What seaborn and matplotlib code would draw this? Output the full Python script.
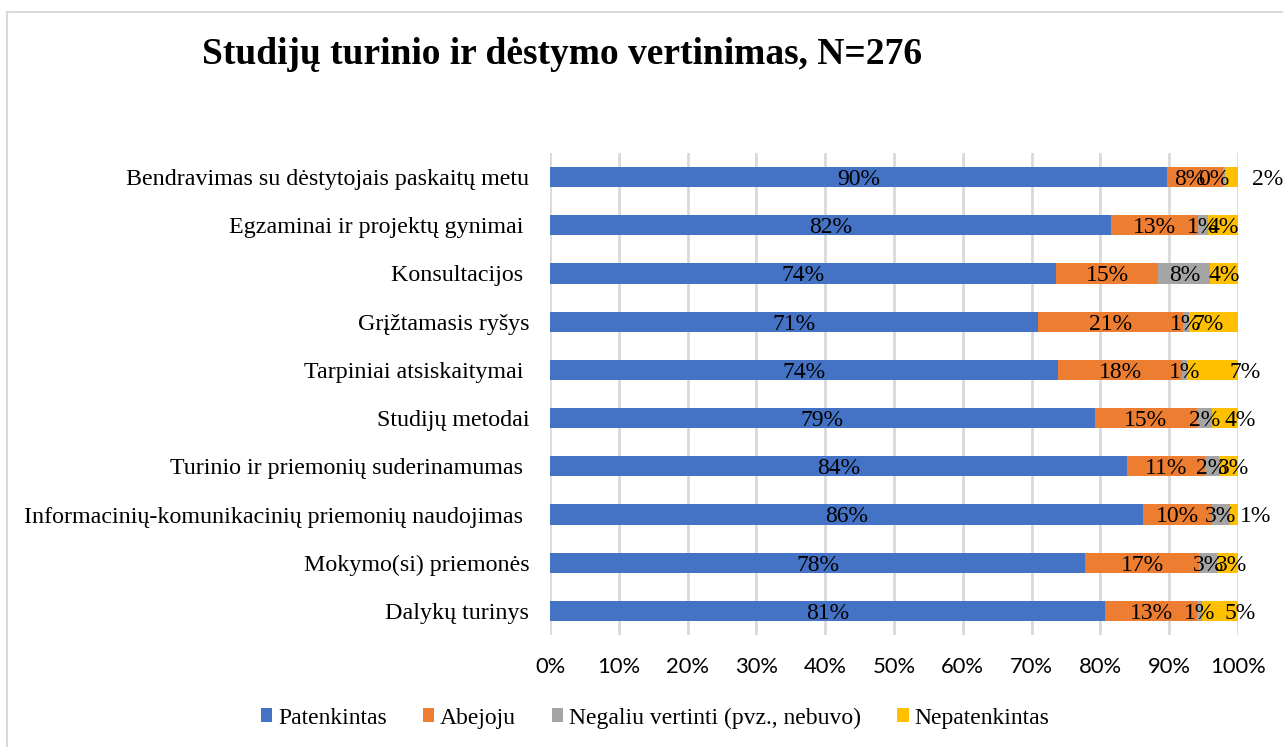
import numpy as np
import pandas as pd
import matplotlib
matplotlib.use("Agg")
import matplotlib.pyplot as plt
import seaborn as sns
from matplotlib.patches import Rectangle, Patch

# chart data (percent of respondents)
categories = [
    "Bendravimas su dėstytojais paskaitų metu",
    "Egzaminai ir projektų gynimai ",
    "Konsultacijos ",
    "Grįžtamasis ryšys",
    "Tarpiniai atsiskaitymai ",
    "Studijų metodai",
    "Turinio ir priemonių suderinamumas ",
    "Informacinių-komunikacinių priemonių naudojimas ",
    "Mokymo(si) priemonės",
    "Dalykų turinys",
]
patenkintas = [89.7, 81.6, 73.6, 70.9, 73.9, 79.2, 83.9, 86.2, 77.8, 80.7]
abejoju = [8.1, 12.6, 14.8, 21.1, 18.0, 14.8, 11.3, 10.0, 16.6, 13.4]
negaliu = [0.3, 1.4, 7.6, 0.9, 0.7, 2.2, 2.0, 2.6, 2.6, 0.7]
nepatenkintas = [1.9, 4.4, 4.0, 7.1, 7.4, 3.8, 2.8, 1.2, 3.0, 5.2]

series_names = ["Patenkintas", "Abejoju", "Negaliu vertinti (pvz., nebuvo)", "Nepatenkintas"]
colors = ["#4472C4", "#ED7D31", "#A5A5A5", "#FFC000"]

# nudges of some data labels (in % units), like the hand-moved labels in the original
orange_shift = [-0.8, 0, 0, 0, 0, 0, 0, 0, 0, 0]
gray_shift = [-1.5, 0, 0, 0, 0, 0, 0, 0, 0, 0]
yellow_shift = [5.3, 0, 0, -0.8, 4.7, 2.2, 0.7, 3.1, 0.6, 2.9]

df = pd.DataFrame({
    "cat": categories,
    "s1": patenkintas,
    "s2": abejoju,
    "s3": negaliu,
    "s4": nepatenkintas,
})
df["c1"] = df["s1"]
df["c2"] = df["c1"] + df["s2"]
df["c3"] = df["c2"] + df["s3"]
df["c4"] = df["c3"] + df["s4"]

serif = ["Liberation Serif", "DejaVu Serif"]

fig = plt.figure(figsize=(12.83, 7.47), dpi=100)
ax = fig.add_axes([550 / 1283, 1 - 635 / 747, 688 / 1283, 482 / 747])

# stacked bars: draw cumulative totals from the largest down
for col, color in zip(["c4", "c3", "c2", "c1"], colors[::-1]):
    sns.barplot(data=df, x=col, y="cat", color=color, width=0.42, ax=ax,
                saturation=1, edgecolor="none", zorder=3)

ax.set_xlim(0, 100)
ax.set_xticks(np.arange(0, 101, 10))
ax.set_xticklabels([f"{v}%" for v in range(0, 101, 10)], family="Lato", fontsize=15.8)
ax.set_yticklabels(categories, family=serif, fontsize=17.3)
ax.set_xlabel("")
ax.set_ylabel("")
ax.tick_params(axis="x", length=0, pad=16)
ax.tick_params(axis="y", length=0, pad=15)
ax.grid(True, axis="x", color="#D9D9D9", linewidth=2, zorder=0)
ax.set_axisbelow(True)
for s in ["top", "right", "bottom", "left"]:
    ax.spines[s].set_visible(False)

# data labels
vals = [patenkintas, abejoju, negaliu, nepatenkintas]
starts = [np.zeros(len(categories)), df["c1"].values, df["c2"].values, df["c3"].values]
shifts = [np.zeros(len(categories)), orange_shift, gray_shift, yellow_shift]
for k in range(4):
    for i in range(len(categories)):
        xc = starts[k][i] + vals[k][i] / 2 + shifts[k][i]
        ax.text(xc, i + 0.05, f"{vals[k][i]:.0f}%", ha="center", va="center",
                family=serif, fontsize=17, color="black", zorder=5, clip_on=False)

# title
fig.text(202 / 1283, 1 - 55 / 747, "Studijų turinio ir dėstymo vertinimas, N=276",
         ha="left", va="center", family=serif, fontsize=27, fontweight="bold")

# legend
handles = [Patch(facecolor=c, edgecolor="none") for c in colors]
fig.legend(handles, series_names, loc="center", bbox_to_anchor=(655 / 1283, 1 - 718 / 747),
           ncol=4, frameon=False, prop={"family": serif, "size": 17},
           handlelength=0.5, handleheight=0.5, handletextpad=0.25, columnspacing=1.5)

# chart border
fig.patches.append(Rectangle((7 / 1283, -0.05), 1.1, 1 - 12 / 747 + 0.05,
                             transform=fig.transFigure, fill=False,
                             edgecolor="#D9D9D9", linewidth=1.5))

fig.savefig("out.png", dpi=100)
